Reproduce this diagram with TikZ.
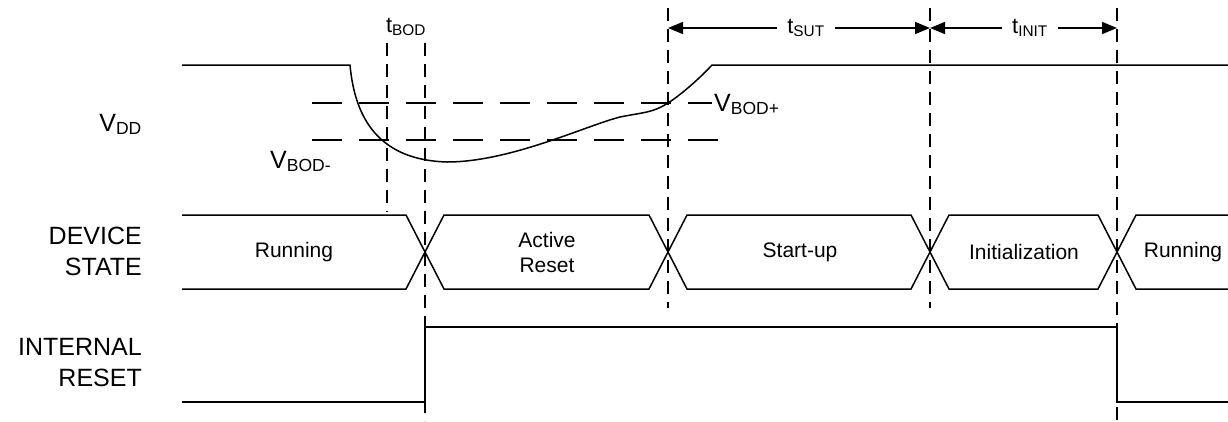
\documentclass[tikz,border=0pt]{standalone}
\usepackage{fontspec}
\setmainfont{Liberation Sans}
\usetikzlibrary{arrows.meta, positioning, calc}

\begin{document}
\begin{tikzpicture}[x=1pt, y=-1pt,
    wave/.style={line width=1.5pt, line join=miter},
    vguide/.style={line width=1.3pt, dash pattern=on 13pt off 8pt},
    hguide/.style={line width=1.3pt, dash pattern=on 30pt off 17pt},
    dimarrow/.style={line width=1.5pt, -{Triangle[length=15pt, width=12pt]}},
    siglabel/.style={font=\fontsize{25}{31}\selectfont, align=right, anchor=east, inner sep=0pt},
    statelabel/.style={font=\fontsize{21}{25}\selectfont, align=center, inner sep=0pt},
    timelabel/.style={font=\fontsize{22}{26}\selectfont, inner xsep=10pt, inner ysep=0pt}]
  \useasboundingbox (0,0) rectangle (1228,421);

  % time marks
  \coordinate (tc) at (668,0);
  \coordinate (td) at (930,0);
  \coordinate (te) at (1117,0);

  % signal names
  \node[siglabel, anchor=base east] (vdd) at (142,131) {V\textsubscript{DD}};
  \node[siglabel] (devstate) at (142,251) {DEVICE\\STATE};
  \node[siglabel] (intreset) at (142,363) {INTERNAL\\RESET};

  % thresholds
  \draw[hguide] (312,103) -- (712,103);
  \draw[hguide] (312,140) -- (723,140);
  \node[siglabel, anchor=base west] (vbodp) at (714,111) {V\textsubscript{BOD+}};
  \node[siglabel, anchor=base west] (vbodm) at (270,168) {V\textsubscript{BOD-}};

  % VDD
  \draw[wave] (182,65) -- (350,65)
    .. controls (355,120) and (380,160) .. (447,162)
    .. controls (510,162) and (585,126) .. (620,117)
    .. controls (645,112) and (652,113) .. (668,103)
    .. controls (682,94) and (700,78) .. (712,65) -- (1228,65);

  % device state bus
  \draw[wave] (182,215) -- (406,215) -- (444,289) -- (649,289) -- (687,215)
    -- (911,215) -- (949,289) -- (1098,289) -- (1136,215) -- (1228,215);
  \draw[wave] (182,289) -- (406,289) -- (444,215) -- (649,215) -- (687,289)
    -- (911,289) -- (949,215) -- (1098,215) -- (1136,289) -- (1228,289);
  \node[statelabel] (run1) at (294,252) {Running};
  \node[statelabel] (actreset) at (547,252) {Active\\Reset};
  \node[statelabel] (startup) at (800,252) {Start-up};
  \node[statelabel] (initial) at (1024,252) {Initialization};
  \node[statelabel] (run2) at (1183,252) {Running};

  % internal reset
  \draw[wave] (182,402) -- (425,402) -- (425,327) -- (1117,327) -- (1117,402) -- (1228,402);

  % guides
  \draw[vguide] (387,43) -- (387,212);
  \draw[vguide] (425,43) -- (425,421);
  \draw[vguide] (tc |- 0,8) -- (tc |- 0,308);
  \draw[vguide] (td |- 0,8) -- (td |- 0,308);
  \draw[vguide] (te |- 0,8) -- (te |- 0,421);

  % timings
  \node[timelabel, inner xsep=0pt] (tbod) at (406,27) {t\textsubscript{BOD}};
  \node[timelabel] (tsut) at (806,28) {t\textsubscript{SUT}};
  \node[timelabel] (tinit) at (1030,28) {t\textsubscript{INIT}};
  \draw[dimarrow] (tsut) -- (tsut -| tc);
  \draw[dimarrow] (tsut) -- (tsut -| td);
  \draw[dimarrow] (tinit) -- (tinit -| td);
  \draw[dimarrow] (tinit) -- (tinit -| te);
\end{tikzpicture}
\end{document}
